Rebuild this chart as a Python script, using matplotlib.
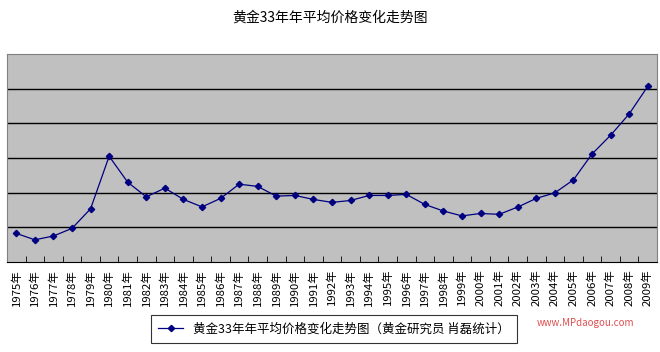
import matplotlib
matplotlib.use("Agg")
import matplotlib.pyplot as plt
from matplotlib.ticker import FixedLocator, NullFormatter

plt.rcParams['font.family'] = ['Noto Sans CJK SC', 'DejaVu Sans']

years = [str(y) + "年" for y in range(1975, 2010)]
prices = [165, 128, 150, 194, 307, 610, 460, 376, 426, 361,
          318, 367, 449, 436, 380, 384, 361, 344, 355, 384,
          384, 390, 332, 294, 266, 280, 275, 317, 367, 399,
          474, 623, 731, 854, 1013]
title = "黄金33年年平均价格变化走势图"
legend_label = "黄金33年年平均价格变化走势图（黄金研究员 肖磊统计）"

fig = plt.figure(figsize=(6.6, 3.52), dpi=100)
ax = fig.add_axes([7 / 660, 90 / 352, 650 / 660, 208 / 352])
ax.set_facecolor("#c0c0c0")

x = list(range(len(years)))
ax.plot(x, prices, color="#000080", lw=0.9, marker="D", ms=3.2,
        mfc="#000080", mec="#000080", label=legend_label)

ax.set_xlim(-0.5, len(years) - 0.5)
ax.set_ylim(0, 1200)
ax.set_yticks(range(200, 1200, 200))
ax.yaxis.grid(True, color="black", lw=1)
ax.set_axisbelow(True)
ax.tick_params(axis="y", length=0, labelleft=False)

ax.set_xticks(x)
ax.set_xticklabels(years, rotation=90, fontsize=8.2)
ax.tick_params(axis="x", which="major", length=0, pad=5)
ax.xaxis.set_minor_locator(FixedLocator([i + 0.5 for i in range(-1, len(years))]))
ax.xaxis.set_minor_formatter(NullFormatter())
ax.tick_params(axis="x", which="minor", direction="in", length=4, color="black")

for side in ["top", "right", "left"]:
    ax.spines[side].set_color("#808080")
ax.spines["bottom"].set_color("black")

fig.text(0.5, 1 - 18 / 352, title, ha="center", va="center", fontsize=10)

leg = ax.legend(loc="center", bbox_to_anchor=(334 / 660, 1 - 329 / 352),
                bbox_transform=fig.transFigure, fontsize=9, frameon=True,
                fancybox=False, edgecolor="black", handlelength=2,
                borderpad=0.6)
leg.get_frame().set_linewidth(0.8)

fig.text(585 / 660, 1 - 323 / 352, "www.MPdaogou.com", color="#e05050",
         fontsize=7, ha="center", va="center")

fig.savefig("out.png", dpi=100)
